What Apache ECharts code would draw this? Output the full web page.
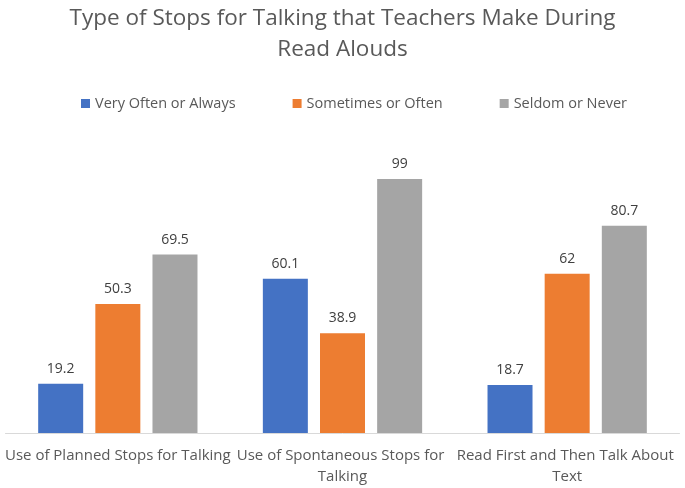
<!DOCTYPE html>
<html>
<head>
<meta charset="utf-8">
<script src="https://cdn.jsdelivr.net/npm/echarts@6/dist/echarts.min.js"></script>
<style>
  html, body { margin: 0; padding: 0; background: #fff; }
  #chart { width: 685px; height: 488px; }
</style>
</head>
<body>
<div id="chart"></div>
<script>
// chart data
const categories = [
  'Use of Planned Stops for Talking',
  'Use of Spontaneous Stops for Talking',
  'Read First and Then Talk About Text'
];
const seriesNames = ['Very Often or Always', 'Sometimes or Often', 'Seldom or Never'];
const veryOften = [19.2, 60.1, 18.7];
const sometimes = [50.3, 38.9, 62];
const seldom = [69.5, 99, 80.7];
const colors = ['#4472C4', '#ED7D31', '#A5A5A5'];

const fontFamily = '"Open Sans", "Liberation Sans", sans-serif';

let series = [veryOften, sometimes, seldom].map((vals, i) => ({
  name: seriesNames[i],
  type: 'bar',
  data: vals,
  barWidth: 45,
  barGap: '27%',
  itemStyle: { color: colors[i] },
  label: {
    show: true,
    position: 'top',
    distance: 8,
    color: '#404040',
    fontSize: 14,
    fontFamily: fontFamily
  }
}));

let chart = echarts.init(document.getElementById('chart'));
chart.setOption({
  animation: false,
  title: {
    text: 'Type of Stops for Talking that Teachers Make During\nRead Alouds',
    left: 'center',
    top: -2,
    textStyle: {
      color: '#595959',
      fontSize: 22.5,
      fontWeight: 'normal',
      fontFamily: fontFamily,
      lineHeight: 31
    }
  },
  legend: {
    top: 91,
    left: 76,
    itemWidth: 9,
    itemHeight: 9,
    itemGap: 57,
    icon: 'rect',
    textStyle: { color: '#595959', fontSize: 14.5, fontFamily: fontFamily },
    data: seriesNames
  },
  grid: { left: 5, right: 5, top: 125, bottom: 55 },
  xAxis: {
    type: 'category',
    data: categories,
    axisLine: { lineStyle: { color: '#D9D9D9' } },
    axisTick: { show: false },
    axisLabel: {
      color: '#595959',
      fontSize: 15,
      fontFamily: fontFamily,
      interval: 0,
      margin: 12,
      lineHeight: 21,
      width: 230,
      overflow: 'break'
    }
  },
  yAxis: {
    type: 'value',
    min: 0,
    max: 120,
    show: false,
    splitLine: { show: false }
  },
  series
});
</script>
</body>
</html>
